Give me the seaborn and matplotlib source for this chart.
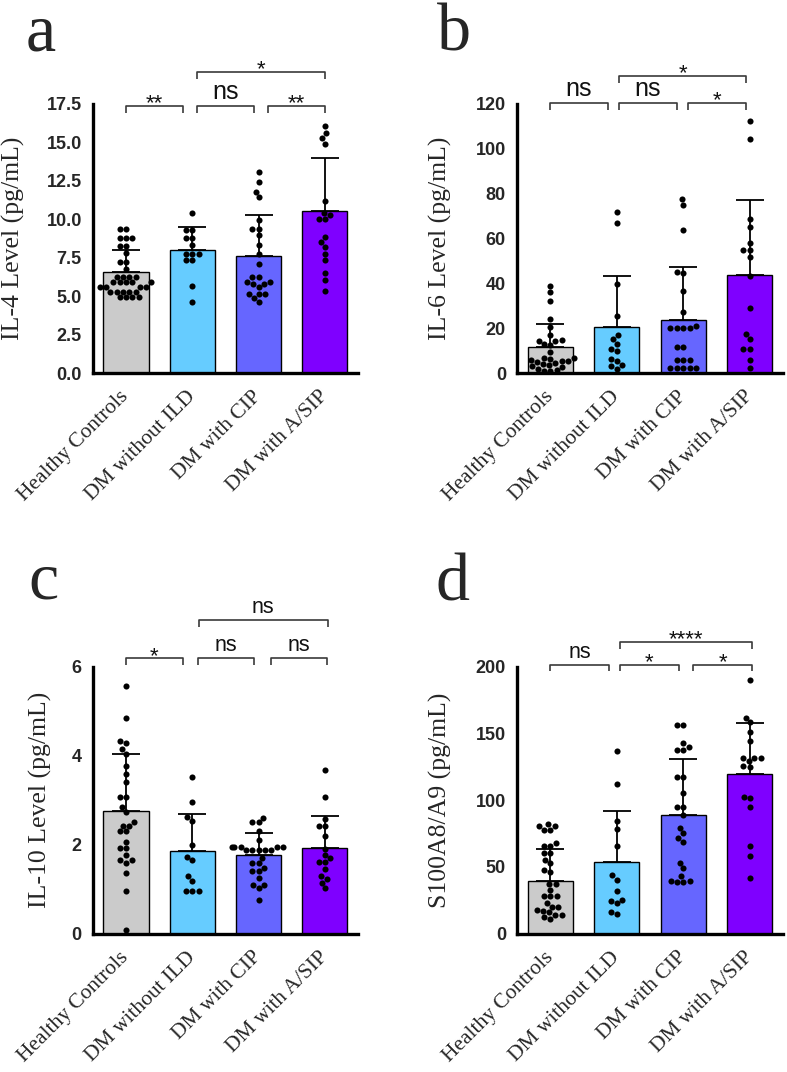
import numpy as np
import pandas as pd
import matplotlib
matplotlib.use("Agg")
import matplotlib.pyplot as plt
import seaborn as sns

groups = ["Healthy Controls", "DM without ILD", "DM with CIP", "DM with A/SIP"]
colors = ["#CBCBCB", "#66CCFF", "#6666FF", "#7F00FF"]

# ---- Panel a: IL-4 ----
il4_hc = [9.4, 9.4, 8.8, 8.8, 8.8, 8.25, 8.25, 7.8, 7.25, 7.25, 6.8, 6.25, 6.25, 6.25, 6.25,
          5.9, 5.9, 5.9, 5.9, 5.9, 5.6, 5.6, 5.6, 5.6, 5.3, 5.3, 5.3, 5.3, 5.3, 4.95, 4.95, 4.95, 4.95]
il4_ild = [10.38, 9.3, 9.3, 8.8, 8.8, 8.3, 7.75, 7.75, 7.75, 7.35, 7.35, 5.65, 4.62]
il4_cip = [13.1, 12.45, 11.8, 11.45, 9.95, 9.4, 9.4, 8.97, 8.3, 7.75, 7.1, 6.25, 6.25, 5.9, 5.9,
           5.8, 5.8, 5.6, 5.15, 5.15, 5.15, 4.9, 4.62]
il4_asip = [16.07, 15.6, 15.26, 14.9, 11.18, 10.44, 10.27, 10.05, 10.05, 8.86, 8.53, 8.2, 7.77,
            7.34, 6.51, 6.08, 5.32]
il4_mean = [6.58, 8.03, 7.62, 10.53]
il4_sd = [1.40, 1.44, 2.65, 3.47]

# ---- Panel b: IL-6 ----
il6_hc = [39, 36, 32, 24, 20.5, 16.8, 14.8, 14.5, 14.2, 12.8, 12.5, 9.5, 6.8, 6.5, 6.2, 5.8, 5.5,
          5.2, 4.8, 4.5, 4.0, 3.5, 3.0, 2.5, 2.0, 1.5, 1.0, 0.8]
il6_ild = [72, 66.7, 39.9, 25.3, 17.1, 15.3, 13.1, 10.6, 9.8, 6.4, 5.4, 3.4, 3.0, 1.9]
il6_cip = [77.6, 74.9, 63.7, 45.1, 44.5, 36.6, 27.2, 20.8, 20.2, 20.2, 20.2, 20.2, 11.6, 11.6,
           5.7, 5.7, 5.7, 2.2, 2.2, 2.2, 2.2, 2.2]
il6_asip = [112.5, 104.2, 68.6, 65.2, 57.8, 54.8, 54.8, 51.8, 43.5, 29.2, 17.6, 15.3, 10.6, 10.6,
            5.7, 2.4]
il6_mean = [11.6, 20.5, 23.5, 43.9]
il6_sd = [10.1, 23.0, 23.8, 33.5]

# ---- Panel c: IL-10 ----
il10_hc = [5.57, 4.85, 4.33, 4.29, 4.15, 4.05, 3.78, 3.6, 3.4, 3.08, 3.08, 2.84, 2.74, 2.52, 2.42,
           2.42, 2.3, 2.3, 2.07, 1.92, 1.92, 1.77, 1.66, 1.66, 1.59, 1.36, 0.95, 0.08]
il10_ild = [3.52, 2.95, 2.63, 2.54, 2.0, 1.72, 1.65, 1.3, 1.19, 0.97, 0.97, 0.97]
il10_cip = [2.61, 2.52, 2.52, 2.3, 2.1, 1.96, 1.96, 1.96, 1.96, 1.96, 1.88, 1.88, 1.88, 1.88,
            1.88, 1.7, 1.59, 1.59, 1.47, 1.4, 1.4, 1.25, 1.1, 1.1, 1.02, 0.75]
il10_asip = [3.68, 3.07, 2.58, 2.42, 2.42, 2.2, 1.91, 1.77, 1.7, 1.62, 1.62, 1.46, 1.3, 1.23,
             1.14, 1.02]
il10_mean = [2.76, 1.87, 1.77, 1.92]
il10_sd = [1.27, 0.82, 0.49, 0.73]

# ---- Panel d: S100A8/A9 ----
s100_hc = [82, 80.8, 80.8, 77.8, 77.8, 68.3, 65.8, 65.8, 60.8, 60.8, 55.5, 53, 47.8, 46.6, 37.3,
           37.3, 32.8, 28, 28, 28, 23.1, 20.1, 20.1, 17.7, 17, 15.9, 14.2, 14.2, 12.2, 11.2]
s100_ild = [137, 112, 84.5, 78.3, 65.8, 43.8, 40.5, 32.3, 25.6, 24.4, 23.1, 16.4, 14.4]
s100_cip = [156.4, 156.4, 142.6, 140, 137.7, 137.7, 117.7, 117.7, 105.2, 95.3, 95.3, 89, 79, 75.3,
            71.6, 69, 53, 49.3, 43, 39.8, 39.3, 38.8, 38.8]
s100_asip = [190, 161.8, 158.4, 150.9, 144.4, 131.9, 131.9, 131.9, 129.7, 125.7, 125.2, 102.7,
             101.5, 95.3, 65.8, 57.9, 42.1]
s100_mean = [39.7, 53.6, 89.0, 119.5]
s100_sd = [23.6, 38.4, 41.7, 38.6]

panels = [
    dict(letter="a", label="IL-4 Level (pg/mL)", pts=[il4_hc, il4_ild, il4_cip, il4_asip],
         mean=il4_mean, sd=il4_sd, ymax=17.5, ticks=[0, 2.5, 5, 7.5, 10, 12.5, 15, 17.5], fmt="{:.1f}",
         brk=[(0, 0.86, 17.37, "**"), (1.065, 1.935, 17.37, "ns"), (2.14, 3.0, 17.37, "**"),
              (1.065, 3.0, 19.6, "*")], nsfs=18, pos=[0.118, 0.652, 0.337, 0.251], lab_x=-0.257,
         ltxt=(0.033, 0.953)),
    dict(letter="b", label="IL-6 Level (pg/mL)", pts=[il6_hc, il6_ild, il6_cip, il6_asip],
         mean=il6_mean, sd=il6_sd, ymax=120, ticks=[0, 20, 40, 60, 80, 100, 120], fmt="{:.0f}",
         brk=[(0, 0.86, 120.6, "ns"), (1.035, 1.90, 120.6, "ns"), (2.075, 2.95, 120.6, "*"),
              (1.035, 2.95, 132.5, "*")], nsfs=18, pos=[0.657, 0.652, 0.338, 0.251], lab_x=-0.244,
         ltxt=(0.555, 0.953)),
    dict(letter="c", label="IL-10 Level (pg/mL)", pts=[il10_hc, il10_ild, il10_cip, il10_asip],
         mean=il10_mean, sd=il10_sd, ymax=6, ticks=[0, 2, 4, 6], fmt="{:.0f}",
         brk=[(0, 0.855, 6.19, "*"), (1.085, 1.93, 6.19, "ns"), (2.18, 3.03, 6.19, "ns"),
              (1.10, 3.04, 7.05, "ns")], nsfs=15.5, pos=[0.118, 0.129, 0.337, 0.249], lab_x=-0.155,
         ltxt=(0.036, 0.442)),
    dict(letter="d", label="S100A8/A9 (pg/mL)", pts=[s100_hc, s100_ild, s100_cip, s100_asip],
         mean=s100_mean, sd=s100_sd, ymax=200, ticks=[0, 50, 100, 150, 200], fmt="{:.0f}",
         brk=[(0, 0.885, 201.7, "ns"), (1.05, 1.93, 201.7, "*"), (2.15, 3.03, 201.7, "*"),
              (1.05, 3.04, 218.5, "****")], nsfs=15.5, pos=[0.657, 0.129, 0.338, 0.249], lab_x=-0.244,
         ltxt=(0.553, 0.44)),
]

sns.set_style("white")
fig = plt.figure(figsize=(7.87, 10.72), dpi=100)

SANS = "Liberation Sans"
SERIF = "Liberation Serif"
BRK = "#3a3a3a"

for p in panels:
    ax = fig.add_axes(p["pos"])
    sns.barplot(x=groups, y=p["mean"], hue=groups, palette=colors, saturation=1, legend=False,
                width=0.68, edgecolor="black", linewidth=1.0, errorbar=None, ax=ax, zorder=1)
    ax.errorbar(np.arange(4), p["mean"], yerr=[np.zeros(4), p["sd"]], fmt="none", ecolor="black",
                elinewidth=1.3, capsize=10, capthick=1.3, zorder=2)
    long = pd.DataFrame({"group": np.repeat(groups, [len(v) for v in p["pts"]]),
                         "value": np.concatenate(p["pts"])})
    sns.swarmplot(data=long, x="group", y="value", order=groups, color="black", size=4.4,
                  linewidth=0, ax=ax, zorder=3, warn_thresh=1.0)
    ymax = p["ymax"]
    ax.set_ylim(0, ymax)
    ax.set_xlim(-0.5, 3.5)
    ax.set_yticks(p["ticks"])
    ax.set_yticklabels([p["fmt"].format(t) for t in p["ticks"]], fontsize=13, fontweight="bold",
                       family=SANS)
    ax.set_xticks(range(4))
    ax.set_xticklabels(groups, rotation=45, ha="right", va="center", rotation_mode="anchor",
                       fontsize=15.5, family=SERIF)
    ax.set_xlabel("")
    ax.set_ylabel(p["label"], fontsize=18.5, family=SERIF)
    ax.yaxis.set_label_coords(p["lab_x"], 0.5)
    for s in ["top", "right"]:
        ax.spines[s].set_visible(False)
    for s in ["left", "bottom"]:
        ax.spines[s].set_linewidth(2.4)
        ax.spines[s].set_color("black")
    ax.tick_params(axis="y", direction="out", length=7, width=2.2, pad=1, color="black")
    ax.tick_params(axis="x", direction="out", length=6, width=2.2, pad=9, color="black")
    ax.grid(False)
    h = ymax * 7.0 / 268
    for x0, x1, y, t in p["brk"]:
        ax.plot([x0, x0, x1, x1], [y - h, y, y, y - h], color=BRK, lw=1.2, clip_on=False,
                solid_capstyle="butt")
        if t == "ns":
            ax.annotate(t, xy=((x0 + x1) / 2, y), xytext=(0, 5), textcoords="offset points",
                        ha="center", va="baseline", fontsize=p["nsfs"], family=SANS,
                        color="#111111", annotation_clip=False)
        else:
            ax.annotate(t, xy=((x0 + x1) / 2, y), xytext=(0, -2.5), textcoords="offset points",
                        ha="center", va="baseline", fontsize=16, family=SANS,
                        color="#111111", annotation_clip=False)
    fig.text(p["ltxt"][0], p["ltxt"][1], p["letter"], fontsize=49, family=SERIF,
             ha="left", va="baseline")

fig.savefig("out.png", dpi=100)
